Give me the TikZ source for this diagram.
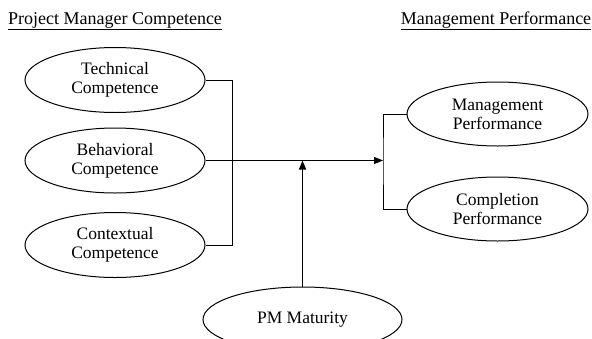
\documentclass[tikz,border=0pt]{standalone}
\usepackage{fontspec}
\setmainfont{Liberation Serif}
\usepackage{tikz}
\usetikzlibrary{arrows.meta,positioning,shapes.geometric}

\begin{document}
\begin{tikzpicture}[x=1pt, y=-1pt,
construct/.style={draw, ellipse, line width=1pt, align=center, inner sep=0pt, minimum width=180pt, minimum height=65pt, font=\fontsize{17.5}{19}\selectfont},
heading/.style={align=center, inner sep=0pt, font=\fontsize{18}{19}\selectfont},
link/.style={line width=0.9pt},
arrow/.style={-{Triangle[length=9pt,width=7pt]}, line width=0.9pt}
]
\clip (0,0) rectangle (592,338);
\useasboundingbox (0,0) rectangle (592,338);
\node[heading] (pmc) at (115,21) {\underline{Project Manager Competence}};
\node[heading] (mp) at (496,21) {\underline{Management Performance}};
\node[construct] (tech) at (115,80) {Technical\\Competence};
\node[construct] (beh) at (115,160.5) {Behavioral\\Competence};
\node[construct] (ctx) at (115,245) {Contextual\\Competence};
\node[construct, minimum width=181pt, minimum height=64pt] (mgmt) at (497.5,114) {Management\\Performance};
\node[construct, minimum width=181pt, minimum height=64pt] (compl) at (497.5,209) {Completion\\Performance};
\node[construct, minimum width=199pt] (pmm) at (302.5,319.5) {PM Maturity};
\coordinate (join) at (383,160.5);
\coordinate (meet) at (pmm.north |- join);
\draw[link] (tech.east) -- ++(27,0) |- (ctx.east);
\draw[link] (mgmt.west) -| (join) |- (compl.west);
\draw[arrow] (beh.east) -- (join);
\draw[arrow, line width=1.5pt] (pmm.north) -- (meet);
\end{tikzpicture}
\end{document}
